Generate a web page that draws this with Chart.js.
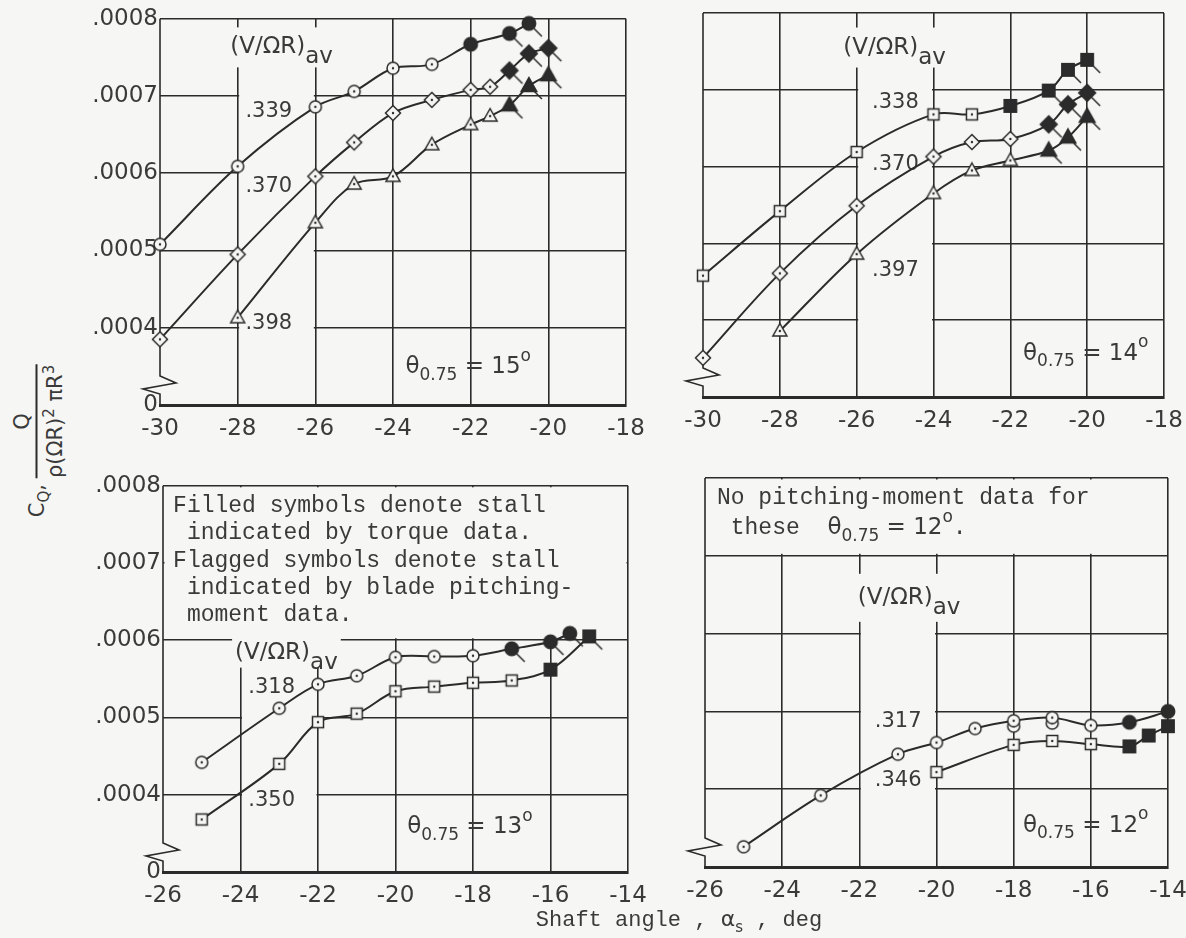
<!DOCTYPE html>
<html lang="en">
<head>
<meta charset="UTF-8">
<title>Torque coefficient vs shaft angle</title>
<script src="https://cdn.jsdelivr.net/npm/chart.js@4"></script>
<style>
    body {
        margin: 0;
        width: 1186px;
        height: 938px;
        overflow: hidden;
        position: relative;
        background: #f6f6f4;
        color: #3a3a3a;
        font-family: 'DejaVu Sans', sans-serif;
    }
    canvas { position: absolute; }

    /* y axis title, rotated */
    .ytitle {
        position: absolute;
        left: 38px;
        top: 441px;
        transform: translate(-50%, -50%) rotate(-90deg);
        white-space: nowrap;
        font-size: 21px;
    }
    .ytitle sub { font-size: 15px; }
    .ytitle sup { font-size: 15px; }
    .frac {
        display: inline-flex;
        flex-direction: column;
        align-items: center;
        vertical-align: middle;
        margin-left: 6px;
    }
    .frac .num { border-bottom: 2px solid #2b2b2b; width: 100%; text-align: center; padding-bottom: 2px; }
    .frac .den { padding-top: 2px; }

    .xtitle {
        position: absolute;
        left: 679px;
        top: 921px;
        transform: translate(-50%, -50%);
        white-space: nowrap;
        font-family: 'Liberation Mono', monospace;
        font-size: 22px;
    }
    .xtitle .a { font-family: 'DejaVu Sans', sans-serif; }
    .xtitle sub { font-family: 'DejaVu Sans', sans-serif; font-size: 15px; }
</style>
</head>
<body>
    <canvas id="p15"></canvas>
    <canvas id="p14"></canvas>
    <canvas id="p13"></canvas>
    <canvas id="p12"></canvas>

    <div class="ytitle">C<sub>Q</sub>,<span class="frac"><span class="num">Q</span><span class="den">ρ(ΩR)<sup>2</sup> πR<sup>3</sup></span></span></div>
    <div class="xtitle">Shaft angle , <span class="a">α</span><sub>s</sub> , deg</div>

<script>
const INK = '#2b2b2b';
const TXT = '#3a3a3a';
const BG = '#f6f6f4';
const LER = "21px 'DejaVu Sans', sans-serif";
const LER_BIG = "23px 'DejaVu Sans', sans-serif";
const LER_SUB = "17px 'DejaVu Sans', sans-serif";
const TYPE = "23px 'Liberation Mono', monospace";

// tick values and labels
const yTicks = [0.0003, 0.0004, 0.0005, 0.0006, 0.0007, 0.0008];
const yLabels = ['0', '.0004', '.0005', '.0006', '.0007', '.0008'];
const xTicksTop = [-30, -28, -26, -24, -22, -20, -18];
const xLabelsTop = ['-30', '-28', '-26', '-24', '-22', '-20', '-18'];
const xTicksBottom = [-26, -24, -22, -20, -18, -16, -14];
const xLabelsBottom = ['-26', '-24', '-22', '-20', '-18', '-16', '-14'];

// marker state: 0 open, 1 filled (torque stall), 2 filled + flag (pitching-moment stall)

// theta 0.75 = 15 deg
const t15_339_x = [-30, -28, -26, -25, -24, -23, -22, -21, -20.5];
const t15_339_y = [0.000508, 0.000609, 0.000686, 0.000706, 0.000736, 0.000741, 0.000767, 0.000781, 0.000794];
const t15_339_s = [0, 0, 0, 0, 0, 0, 1, 2, 2];
const t15_370_x = [-30, -28, -26, -25, -24, -23, -22, -21.5, -21, -20.5, -20];
const t15_370_y = [0.000385, 0.000495, 0.000596, 0.00064, 0.000678, 0.000695, 0.000708, 0.000712, 0.000733, 0.000755, 0.000762];
const t15_370_s = [0, 0, 0, 0, 0, 0, 0, 0, 2, 2, 2];
const t15_398_x = [-28, -26, -25, -24, -23, -22, -21.5, -21, -20.5, -20];
const t15_398_y = [0.000413, 0.000536, 0.000586, 0.000596, 0.000637, 0.000663, 0.000674, 0.000688, 0.000713, 0.000727];
const t15_398_s = [0, 0, 0, 0, 0, 0, 0, 2, 2, 2];

// theta 0.75 = 14 deg
const t14_338_x = [-30, -28, -26, -24, -23, -22, -21, -20.5, -20];
const t14_338_y = [0.000458, 0.000542, 0.000619, 0.000668, 0.000668, 0.000679, 0.000699, 0.000726, 0.000739];
const t14_338_s = [0, 0, 0, 0, 0, 1, 2, 2, 2];
const t14_370_x = [-30, -28, -26, -24, -23, -22, -21, -20.5, -20];
const t14_370_y = [0.000351, 0.000461, 0.000549, 0.000613, 0.000632, 0.000636, 0.000655, 0.000681, 0.000696];
const t14_370_s = [0, 0, 0, 0, 0, 0, 2, 2, 2];
const t14_397_x = [-28, -26, -24, -23, -22, -21, -20.5, -20];
const t14_397_y = [0.000386, 0.000486, 0.000565, 0.000595, 0.000608, 0.000621, 0.000638, 0.000665];
const t14_397_s = [0, 0, 0, 0, 0, 2, 2, 2];

// theta 0.75 = 13 deg
const t13_318_x = [-25, -23, -22, -21, -20, -19, -18, -17, -16, -15.5];
const t13_318_y = [0.000442, 0.000512, 0.000543, 0.000554, 0.000578, 0.000579, 0.00058, 0.000589, 0.000598, 0.000609];
const t13_318_s = [0, 0, 0, 0, 0, 0, 0, 2, 2, 2];
const t13_350_x = [-25, -23, -22, -21, -20, -19, -18, -17, -16, -15];
const t13_350_y = [0.000368, 0.00044, 0.000494, 0.000505, 0.000534, 0.00054, 0.000545, 0.000548, 0.000562, 0.000605];
const t13_350_s = [0, 0, 0, 0, 0, 0, 0, 0, 1, 2];

// theta 0.75 = 12 deg
const t12_317_x = [-25, -23, -21, -20, -19, -18, -17, -16, -15, -14];
const t12_317_y = [0.000326, 0.000392, 0.000445, 0.00046, 0.000478, 0.000488, 0.000492, 0.000482, 0.000486, 0.0005];
const t12_317_s = [0, 0, 0, 0, 0, 0, 0, 0, 1, 1];
const t12_317r_x = [-18, -17];   // repeat points
const t12_317r_y = [0.000481, 0.000485];
const t12_317r_s = [0, 0];
const t12_346_x = [-20, -18, -17, -16, -15, -14.5, -14];
const t12_346_y = [0.000422, 0.000457, 0.000462, 0.000458, 0.000455, 0.000469, 0.000481];
const t12_346_s = [0, 0, 0, 0, 1, 1, 1];

// marker images
function marker(shape, state) {
    const S = 34, c = S / 2, k = state ? 1.12 : 1;
    const cv = document.createElement('canvas');
    cv.width = cv.height = S;
    const g = cv.getContext('2d');
    g.lineWidth = 1.5;
    g.strokeStyle = INK;
    g.fillStyle = state ? INK : BG;
    g.beginPath();
    if (shape === 'circle') {
        g.arc(c, c, 6 * k, 0, 2 * Math.PI);
    } else if (shape === 'square') {
        g.rect(c - 5.5 * k, c - 5.5 * k, 11 * k, 11 * k);
    } else if (shape === 'diamond') {
        g.moveTo(c, c - 7.5 * k); g.lineTo(c + 7.5 * k, c); g.lineTo(c, c + 7.5 * k); g.lineTo(c - 7.5 * k, c); g.closePath();
    } else {
        g.moveTo(c, c - 7.5 * k); g.lineTo(c + 7 * k, c + 5 * k); g.lineTo(c - 7 * k, c + 5 * k); g.closePath();
    }
    g.fill();
    g.stroke();
    if (!state) {
        g.beginPath(); g.arc(c, c, 1.2, 0, 2 * Math.PI); g.fillStyle = INK; g.fill();
    }
    if (state === 2) {
        g.beginPath(); g.moveTo(c + 4, c + 4); g.lineTo(c + 13, c + 13); g.stroke();
    }
    return cv;
}
const MARKS = {};
['circle', 'square', 'diamond', 'triangle'].forEach(s => { MARKS[s] = [0, 1, 2].map(st => marker(s, st)); });

function series(xs, ys, states, shape, noLine) {
    return {
        data: xs.map((v, i) => ({ x: v, y: ys[i] })),
        borderColor: INK,
        borderWidth: 2,
        showLine: !noLine,
        tension: 0.35,
        pointStyle: ctx => MARKS[shape][states[ctx.dataIndex]],
        pointRadius: 7,
        pointHoverRadius: 7,
        clip: false
    };
}

// text helpers
function num(t) { return [{ t: t, f: LER }]; }
function theta(v) {
    return [{ t: 'θ', f: LER_BIG }, { t: '0.75', f: LER_SUB, dy: 8 }, { t: ' = ' + v, f: LER_BIG }, { t: 'o', f: LER_SUB, dy: -11 }];
}
const VOR = [{ t: '(V/ΩR)', f: LER_BIG }, { t: 'av', f: LER_BIG, dy: 10 }];

function drawParts(ctx, px, py, parts, bg) {
    let w = 0;
    parts.forEach(p => { ctx.font = p.f; p.w = ctx.measureText(p.t).width; w += p.w; });
    if (bg) {
        ctx.fillStyle = BG;
        ctx.fillRect(px - bg[0], py - 12 - bg[1], w + 2 * bg[0], 24 + 2 * bg[1]);
    }
    ctx.fillStyle = TXT;
    ctx.textBaseline = 'middle';
    ctx.textAlign = 'left';
    let cx = px;
    parts.forEach(p => { ctx.font = p.f; ctx.fillText(p.t, cx, py + (p.dy || 0)); cx += p.w; });
}

const panelDeco = {
    id: 'panelDeco',
    beforeDatasetsDraw(chart, args, opts) {
        const { ctx, chartArea: a, scales: { x, y } } = chart;
        ctx.save();
        // blank areas (label column, notes)
        ctx.fillStyle = BG;
        (opts.clear || []).forEach(c => {
            const x0 = x.getPixelForValue(c.x0) + 1.5, x1 = x.getPixelForValue(c.x1) - 1.5;
            const y0 = Math.max(y.getPixelForValue(c.y1), a.top) + 1.5;
            const y1 = Math.min(y.getPixelForValue(c.y0), a.bottom) - 2;
            ctx.fillRect(x0, y0, x1 - x0, y1 - y0);
        });
        // left edge with axis break
        const L = a.left, B = a.bottom;
        ctx.strokeStyle = INK;
        ctx.lineWidth = 1.6;
        ctx.beginPath();
        ctx.moveTo(L, a.top);
        ctx.lineTo(L, B - 29);
        ctx.lineTo(L + 16, B - 22);
        ctx.lineTo(L - 17, B - 16);
        ctx.lineTo(L, B - 11);
        ctx.lineTo(L, B);
        ctx.stroke();
        // labels
        (opts.labels || []).forEach(lb => {
            drawParts(ctx, x.getPixelForValue(lb.x), y.getPixelForValue(lb.y), lb.parts, lb.bg);
        });
        (opts.notes || []).forEach(n => {
            const px = x.getPixelForValue(n.x), py = y.getPixelForValue(n.y);
            n.lines.forEach((ln, i) => {
                const parts = typeof ln === 'string' ? [{ t: ln, f: TYPE }] : ln;
                drawParts(ctx, px, py + i * n.lh, parts);
            });
        });
        ctx.restore();
    }
};

function makePanel(id, box, spec) {
    const L = spec.showY ? 80 : 30, T = 15, R = 30, B = 40;
    const cv = document.getElementById(id);
    cv.width = box.r - box.l + L + R;
    cv.height = box.b - box.t + T + B;
    cv.style.left = (box.l - L) + 'px';
    cv.style.top = (box.t - T) + 'px';
    const tickFont = { family: "'DejaVu Sans', sans-serif", size: 23 };
    return new Chart(cv, {
        type: 'line',
        data: { datasets: spec.series },
        options: {
            responsive: false,
            animation: false,
            events: [],
            layout: { padding: { top: T, right: R, left: 0, bottom: 0 } },
            plugins: { legend: { display: false }, tooltip: { enabled: false }, panelDeco: spec.deco },
            scales: {
                x: {
                    type: 'linear',
                    min: spec.xTicks[0],
                    max: spec.xTicks[spec.xTicks.length - 1],
                    afterBuildTicks: s => { s.ticks = spec.xTicks.map(v => ({ value: v })); },
                    afterFit: s => { s.height = B; },
                    ticks: { callback: (v, i) => spec.xLabels[i], font: tickFont, color: TXT, padding: 10, maxRotation: 0, autoSkip: false },
                    grid: { color: c => c.index === 0 ? 'rgba(0,0,0,0)' : INK, lineWidth: 1.6, drawTicks: false },
                    border: { display: true, color: INK, width: 3 }
                },
                y: {
                    type: 'linear',
                    min: yTicks[0],
                    max: yTicks[yTicks.length - 1],
                    afterBuildTicks: s => { s.ticks = yTicks.map(v => ({ value: v })); },
                    afterFit: s => { s.width = L; },
                    ticks: { display: spec.showY, callback: (v, i) => yLabels[i], font: tickFont, color: TXT, padding: 2, autoSkip: false },
                    grid: { color: INK, lineWidth: 1.6, drawTicks: false },
                    border: { display: false }
                }
            }
        },
        plugins: [panelDeco]
    });
}

makePanel('p15', { l: 160, t: 18, r: 626, b: 405 }, {
    showY: true, xTicks: xTicksTop, xLabels: xLabelsTop,
    series: [
        series(t15_339_x, t15_339_y, t15_339_s, 'circle'),
        series(t15_370_x, t15_370_y, t15_370_s, 'diamond'),
        series(t15_398_x, t15_398_y, t15_398_s, 'triangle')
    ],
    deco: {
        clear: [{ x0: -28, x1: -26, y0: 0.0003, y1: 0.000715 }],
        labels: [
            { x: -28.19, y: 0.000763, parts: VOR, bg: [5, 8] },
            { x: -27.8, y: 0.00068, parts: num('.339') },
            { x: -27.8, y: 0.000583, parts: num('.370') },
            { x: -27.8, y: 0.000406, parts: num('.398') },
            { x: -23.68, y: 0.000349, parts: theta('15') }
        ]
    }
});

makePanel('p14', { l: 703, t: 13, r: 1164, b: 397 }, {
    showY: false, xTicks: xTicksTop, xLabels: xLabelsTop,
    series: [
        series(t14_338_x, t14_338_y, t14_338_s, 'square'),
        series(t14_370_x, t14_370_y, t14_370_s, 'diamond'),
        series(t14_397_x, t14_397_y, t14_397_s, 'triangle')
    ],
    deco: {
        clear: [{ x0: -26, x1: -24, y0: 0.0003, y1: 0.000715 }],
        labels: [
            { x: -26.35, y: 0.000755, parts: VOR, bg: [5, 8] },
            { x: -25.6, y: 0.000683, parts: num('.338') },
            { x: -25.6, y: 0.000603, parts: num('.370') },
            { x: -25.6, y: 0.000465, parts: num('.397') },
            { x: -21.67, y: 0.000356, parts: theta('14') }
        ]
    }
});

makePanel('p13', { l: 163, t: 485, r: 628, b: 872 }, {
    showY: true, xTicks: xTicksBottom, xLabels: xLabelsBottom,
    series: [
        series(t13_318_x, t13_318_y, t13_318_s, 'circle'),
        series(t13_350_x, t13_350_y, t13_350_s, 'square')
    ],
    deco: {
        clear: [
            { x0: -26, x1: -14, y0: 0.0006, y1: 0.0008 },
            { x0: -24, x1: -22, y0: 0.0003, y1: 0.00061 }
        ],
        notes: [{
            x: -25.74, y: 0.000774, lh: 27.3,
            lines: ['Filled symbols denote stall', ' indicated by torque data.', 'Flagged symbols denote stall',
                    ' indicated by blade pitching-', ' moment data.']
        }],
        labels: [
            { x: -24.14, y: 0.000584, parts: VOR, bg: [3, 3] },
            { x: -23.8, y: 0.000539, parts: num('.318') },
            { x: -23.8, y: 0.000393, parts: num('.350') },
            { x: -19.7, y: 0.000358, parts: theta('13') }
        ]
    }
});

makePanel('p12', { l: 705, t: 478, r: 1168, b: 867 }, {
    showY: false, xTicks: xTicksBottom, xLabels: xLabelsBottom,
    series: [
        series(t12_317_x, t12_317_y, t12_317_s, 'circle'),
        series(t12_317r_x, t12_317r_y, t12_317r_s, 'circle', true),
        series(t12_346_x, t12_346_y, t12_346_s, 'square')
    ],
    deco: {
        clear: [
            { x0: -26, x1: -14, y0: 0.0007, y1: 0.0008 },
            { x0: -22, x1: -20, y0: 0.0003, y1: 0.00067 }
        ],
        notes: [{
            x: -25.69, y: 0.000774, lh: 30,
            lines: ['No pitching-moment data for',
                    [{ t: ' these  ', f: TYPE }].concat(theta('12'), [{ t: '.', f: TYPE }])]
        }],
        labels: [
            { x: -22.04, y: 0.000646, parts: VOR, bg: [5, 12] },
            { x: -21.6, y: 0.000487, parts: num('.317') },
            { x: -21.6, y: 0.000411, parts: num('.346') },
            { x: -17.76, y: 0.000353, parts: theta('12') }
        ]
    }
});
</script>
</body>
</html>
